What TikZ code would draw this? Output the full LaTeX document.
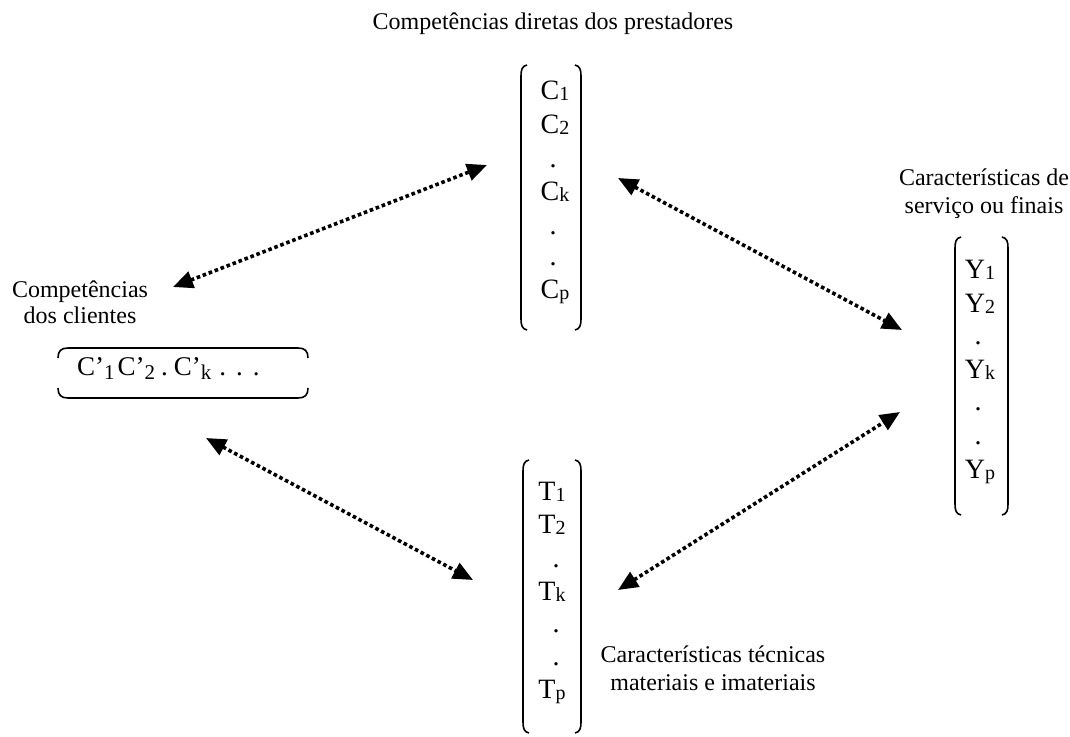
\documentclass[tikz,border=0pt]{standalone}
\usepackage{fontspec}
\setmainfont{Liberation Serif}
\usetikzlibrary{arrows.meta}
\newcommand{\subx}[1]{{\fontsize{20}{20}\selectfont\raisebox{-1pt}{#1}}}
\newcommand{\subb}[1]{{\fontsize{21}{21}\selectfont\raisebox{-4pt}{#1}}}
\tikzset{
  lbl/.style={font=\fontsize{24}{28}\selectfont, inner sep=0pt, align=center},
  ent/.style={font=\fontsize{28}{32}\selectfont, inner sep=0pt, anchor=base},
  brk/.style={line width=1.6pt},
  link/.style={line width=3.6pt, dash pattern=on 3.6pt off 2.8pt,
    {Triangle[length=20pt,width=17pt]}-{Triangle[length=20pt,width=17pt]}},
}
\begin{document}
\begin{tikzpicture}[x=1pt,y=-1pt]
\useasboundingbox (0,0) rectangle (1070,736);
% labels
\node[lbl, anchor=base] (title) at (553,29) {Competências diretas dos prestadores};
\node[lbl, anchor=base] (lcl1) at (80,297) {Competências};
\node[lbl, anchor=base] (lcl2) at (80,323) {dos clientes};
\node[lbl, anchor=base] (rcl1) at (984,185) {Características de};
\node[lbl, anchor=base] (rcl2) at (984,213) {serviço ou finais};
\node[lbl, anchor=base] (bcl1) at (713,662) {Características técnicas};
\node[lbl, anchor=base] (bcl2) at (713,690) {materiais e imateriais};
% C matrix
\draw[brk] (527,65) .. controls (522,66) and (521,70) .. (521,76) -- (521,319) .. controls (521,325) and (522,329) .. (527,330);
\draw[brk] (575,65) .. controls (580,66) and (581,70) .. (581,76) -- (581,319) .. controls (581,325) and (580,329) .. (575,330);
\node[ent] (c1) at (555,99) {C\subx{1}};
\node[ent] (c2) at (555,133) {C\subx{2}};
\node[ent] (cd1) at (553,167) {.};
\node[ent] (ck) at (555,200) {C\subx{k}};
\node[ent] (cd2) at (553,234) {.};
\node[ent] (cd3) at (553,265) {.};
\node[ent] (cp) at (555,298) {C\subx{p}};
% T matrix
\draw[brk] (529,460) .. controls (524,461) and (523,465) .. (523,471) -- (523,722) .. controls (523,728) and (524,732) .. (529,733);
\draw[brk] (575,460) .. controls (580,461) and (581,465) .. (581,471) -- (581,722) .. controls (581,728) and (580,732) .. (575,733);
\node[ent] (t1) at (552,500) {T\subx{1}};
\node[ent] (t2) at (552,533) {T\subx{2}};
\node[ent] (td1) at (556,567) {.};
\node[ent] (tk) at (552,600) {T\subx{k}};
\node[ent] (td2) at (556,632) {.};
\node[ent] (td3) at (556,665) {.};
\node[ent] (tp) at (552,698) {T\subx{p}};
% Y matrix
\draw[brk] (961,237) .. controls (956,238) and (955,242) .. (955,248) -- (955,504) .. controls (955,510) and (956,514) .. (961,515);
\draw[brk] (1002,237) .. controls (1007,238) and (1008,242) .. (1008,248) -- (1008,504) .. controls (1008,510) and (1007,514) .. (1002,515);
\node[ent] (y1) at (980,278) {Y\subx{1}};
\node[ent] (y2) at (980,312) {Y\subx{2}};
\node[ent] (yd1) at (978,344) {.};
\node[ent] (yk) at (980,378) {Y\subx{k}};
\node[ent] (yd2) at (978,410) {.};
\node[ent] (yd3) at (978,444) {.};
\node[ent] (yp) at (980,478) {Y\subx{p}};
% client box
\draw[brk] (58,358) .. controls (58,351) and (61,348) .. (68,348) -- (298,348) .. controls (305,348) and (308,351) .. (308,358);
\draw[brk] (58,388) .. controls (58,395) and (61,398) .. (68,398) -- (298,398) .. controls (305,398) and (308,395) .. (308,388);
\node[ent, font=\fontsize{27}{30}\selectfont, anchor=base west] (cc) at (77,375) {C’\subb{1}\hspace{3pt}C’\subb{2}\hspace{6pt}.\hspace{6pt}C’\subb{k}\hspace{8pt}.\hspace{10pt}.\hspace{10pt}.};
% connectors
\coordinate (a1s) at (173,287);
\coordinate (a1e) at (487,165);
\coordinate (a2s) at (618,178);
\coordinate (a2e) at (902,330);
\coordinate (a3s) at (206,438);
\coordinate (a3e) at (473,580);
\coordinate (a4s) at (618,590);
\coordinate (a4e) at (900,412);
\draw[link] (a1s) -- (a1e);
\draw[link] (a2s) -- (a2e);
\draw[link] (a3s) -- (a3e);
\draw[link] (a4s) -- (a4e);
\end{tikzpicture}
\end{document}
